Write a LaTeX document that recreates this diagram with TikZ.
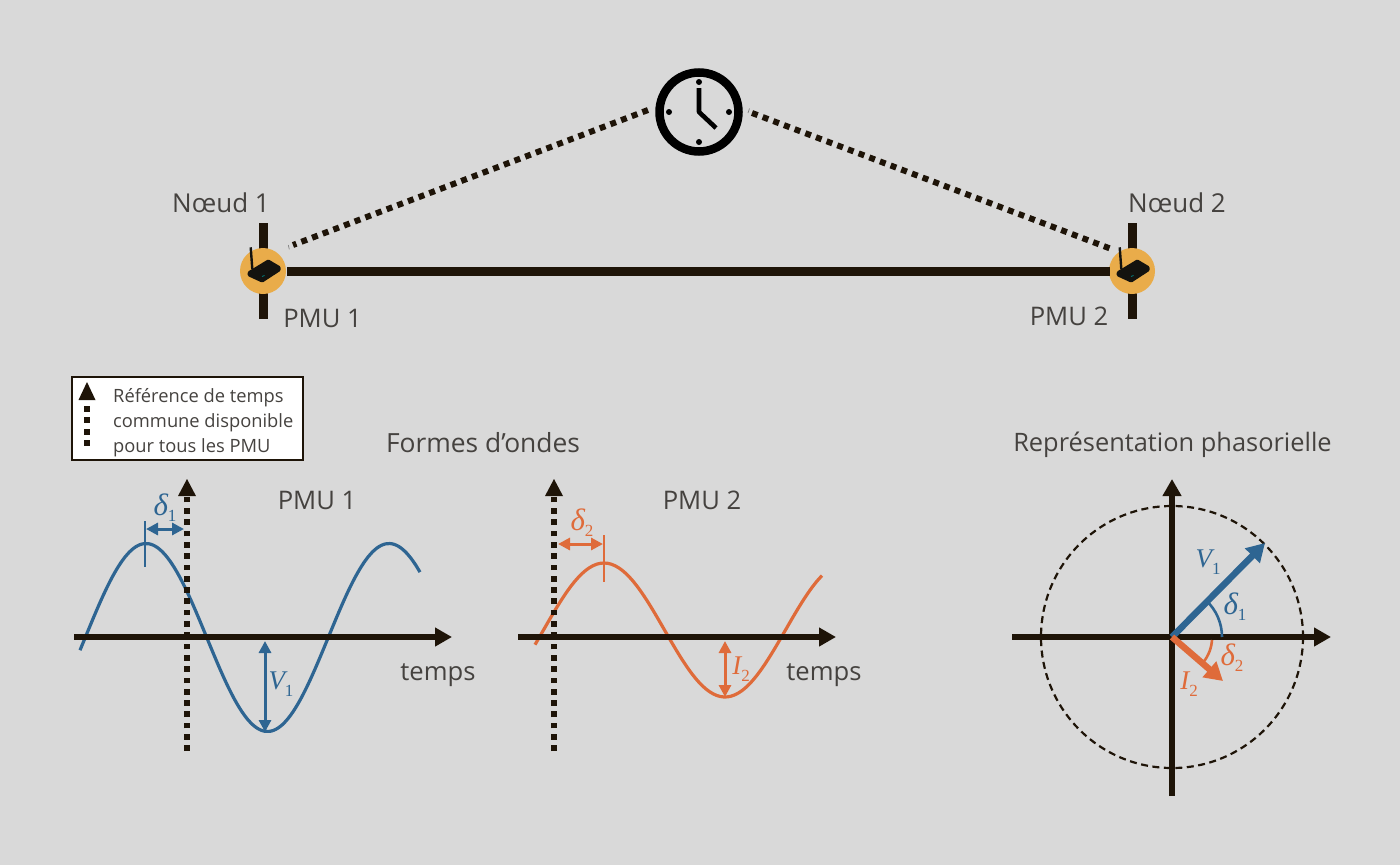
\documentclass[tikz,border=0pt]{standalone}
\usepackage{fontspec}
\setmainfont{Open Sans}
\newfontfamily\mathserif{Liberation Serif}
\usetikzlibrary{arrows.meta,calc}
\definecolor{bgc}{HTML}{D9D9D9}
\definecolor{ink}{HTML}{1E1408}
\definecolor{txt}{HTML}{45423F}
\definecolor{bluec}{HTML}{2E6592}
\definecolor{orangec}{HTML}{DF6B3A}
\definecolor{gold}{HTML}{E9AC4A}
\definecolor{devicec}{HTML}{14130F}
\newcommand{\mv}[2]{{\mathserif\itshape #1}\raisebox{-0.28em}{\mathserif\fontsize{17}{17}\selectfont #2}}
\newcommand{\dv}[1]{{\mathserif\itshape\fontsize{31}{31}\selectfont δ}\raisebox{-0.22em}{\mathserif\fontsize{17}{17}\selectfont #1}}
\tikzset{
  lbl/.style={text=txt,inner sep=0pt,font=\fontsize{25.6}{25.6}\selectfont},
  var/.style={inner sep=0pt,font=\fontsize{27}{27}\selectfont},
  bar/.style={draw=ink,line width=9pt},
  axisline/.style={draw=ink,line width=6pt,-{Triangle[length=17pt,width=18pt]}},
  refaxis/.style={draw=ink,line width=5.7pt,dash pattern=on 5.7pt off 5.6pt},
  syncline/.style={draw=ink,line width=6pt,dash pattern=on 6pt off 5.4pt},
  dim/.style={line width=3pt,{Triangle[length=12pt,width=12pt]}-{Triangle[length=12pt,width=12pt]}},
  pmunode/.style={circle,fill=gold,minimum size=46pt,inner sep=0pt},
  routerpic/.pic={
    \draw[devicec,line width=2.4pt] (-12.3,-23.7) -- (-10.7,-2);
    \fill[devicec,rounded corners=1.2pt] (-15.3,.7) -- (5.3,-11.7) -- (17.7,-4.3) -- (17.7,-.3) -- (-.7,11.7) -- (-15.3,5) -- cycle;
    \draw[teal,line width=.8pt] (-1,5.5) -- (1.5,4.5);
  }
}
\begin{document}
\begin{tikzpicture}[x=1pt,y=-1pt]
\useasboundingbox (0,0) rectangle (1400,865);
\fill[bgc] (0,0) rectangle (1400,865);

% network
\coordinate (n1t) at (263,223); \coordinate (n1b) at (263,319);
\coordinate (n2t) at (1132,223); \coordinate (n2b) at (1132,319);
\draw[bar] (n1t) -- (n1b);
\draw[bar] (n2t) -- (n2b);
\node[pmunode] (pmua) at (263,271) {};
\node[pmunode] (pmub) at (1132,271) {};
\coordinate (linea) at (287,271); \coordinate (lineb) at (1110,271);
\draw[bar] (linea) -- (lineb);
\pic at (pmua.center) {routerpic};
\pic at (pmub.center) {routerpic};

% clock
\node[circle,draw=black,line width=8.5pt,minimum size=79pt,inner sep=0pt] (clock) at (699,112) {};
\draw[black,line width=4.6pt,line join=round] (699,88) -- (clock.center) -- (716,128);
\foreach \p in {(699,82),(669,112),(729,112),(699,142)} \fill[black] \p circle (3);
\coordinate (cl) at (648,110); \coordinate (cr) at (752,113);
\coordinate (pa) at (293,245); \coordinate (pb) at (1114,250);
\draw[syncline] (cl) -- (pa);
\draw[syncline] (cr) -- (pb);
\draw[gray,line width=.7pt] (288.3,245) -- (289.3,249.3);
\draw[gray,line width=.7pt] (748,113) -- (749.5,108.5);
\node[lbl,font=\fontsize{26}{26}\selectfont] (n1) at (221,203) {Nœud 1};
\node[lbl,font=\fontsize{26}{26}\selectfont] (n2) at (1177,203) {Nœud 2};
\node[lbl] (p1) at (322.5,318) {PMU 1};
\node[lbl] (p2) at (1069,316) {PMU 2};

% legend
\node[draw=ink,fill=white,line width=2.6pt,minimum width=231pt,minimum height=83pt,inner sep=0pt] (legend) at (187.5,418.5) {};
\node[lbl,anchor=west,align=left,font=\fontsize{18.3}{25}\selectfont] (legtxt) at (113,422.5) {Référence de temps\\commune disponible\\pour tous les PMU};
\fill[ink] (87,382) -- (95.5,400) -- (78.5,400) -- cycle;
\foreach \yy in {409,420,432,443} \fill[ink] (84.2,\yy-2.8) rectangle +(5.6,5.6);

\node[lbl,font=\fontsize{26.4}{26.4}\selectfont] (formes) at (483,443) {Formes d’ondes};
\node[lbl,font=\fontsize{25.4}{25.4}\selectfont] (repr) at (1172.5,445) {Représentation phasorielle};

% waveform 1
\coordinate (a1s) at (74,637); \coordinate (a1e) at (452,637);
\coordinate (r1s) at (187,751); \coordinate (r1e) at (187,495);
\draw[smooth,bluec,line width=3.2pt,samples=80,domain=80:420] plot (\x,{637.5-94*cos((\x-146)*1.4815)});
\draw[axisline] (a1s) -- (a1e);
\draw[refaxis] (r1s) -- (r1e);
\fill[ink] (187,479) -- (196,496) -- (178,496) -- cycle;
\coordinate (t1a) at (145,521); \coordinate (t1b) at (145,567);
\draw[bluec,line width=2.4pt] (t1a) -- (t1b);
\coordinate (d1a) at (146,529); \coordinate (d1b) at (184,529);
\draw[dim,bluec] (d1a) -- (d1b);
\coordinate (v1a) at (265,641); \coordinate (v1b) at (265,732);
\draw[dim,bluec] (v1a) -- (v1b);
\node[var,text=bluec] (ld1) at (165,508) {\dv{1}};
\node[var,text=bluec] (lv1) at (281,684) {\mv{V}{1}};
\node[lbl] (pl1) at (317,500) {PMU 1};
\node[lbl] (tm1) at (438,675) {temps};

% waveform 2
\coordinate (a2s) at (518,637); \coordinate (a2e) at (836,637);
\coordinate (r2s) at (554,751); \coordinate (r2e) at (554,495);
\draw[smooth,orangec,line width=3.2pt,samples=80,domain=535:822] plot (\x,{630-67*cos((\x-604)*1.48760)});
\draw[axisline] (a2s) -- (a2e);
\draw[refaxis] (r2s) -- (r2e);
\fill[ink] (554,479) -- (563,496) -- (545,496) -- cycle;
\coordinate (t2a) at (604,535); \coordinate (t2b) at (604,582);
\draw[orangec,line width=2.4pt] (t2a) -- (t2b);
\coordinate (d2a) at (558,544); \coordinate (d2b) at (603,544);
\draw[dim,orangec] (d2a) -- (d2b);
\coordinate (i2a) at (725,641); \coordinate (i2b) at (725,697);
\draw[dim,orangec] (i2a) -- (i2b);
\node[var,text=orangec] (ld2) at (582,523) {\dv{2}};
\node[var,text=orangec] (li2) at (741,669) {\mv{I}{2}};
\node[lbl] (pl2) at (702,500) {PMU 2};
\node[lbl] (tm2) at (824,675) {temps};

% phasors
\coordinate (o) at (1172,637);
\draw[ink,line width=2.2pt,dash pattern=on 7pt off 4.5pt] (o) circle (131);
\coordinate (h1) at (1012,637); \coordinate (h2) at (1331,637);
\coordinate (w1) at (1172,796); \coordinate (w2) at (1172,479);
\draw[axisline] (h1) -- (h2);
\draw[axisline] (w1) -- (w2);
\coordinate (vtip) at (1265,543); \coordinate (itip) at (1223,681);
\draw[bluec,line width=6.5pt,-{Triangle[length=18pt,width=20pt]}] (o) -- (vtip);
\draw[orangec,line width=6.5pt,-{Triangle[length=18pt,width=20pt]}] (o) -- (itip);
\draw[bluec,line width=2.6pt] (1222,637) arc[start angle=0,end angle=-47,radius=50];
\draw[orangec,line width=2.6pt] (1212,640) arc[start angle=4,end angle=38,radius=40];
\node[var,text=bluec] (lph1) at (1208,562) {\mv{V}{1}};
\node[var,text=bluec] (lph2) at (1235,607) {\dv{1}};
\node[var,text=orangec] (lph3) at (1232,658) {\dv{2}};
\node[var,text=orangec] (lph4) at (1189,684) {\mv{I}{2}};
\end{tikzpicture}
\end{document}
